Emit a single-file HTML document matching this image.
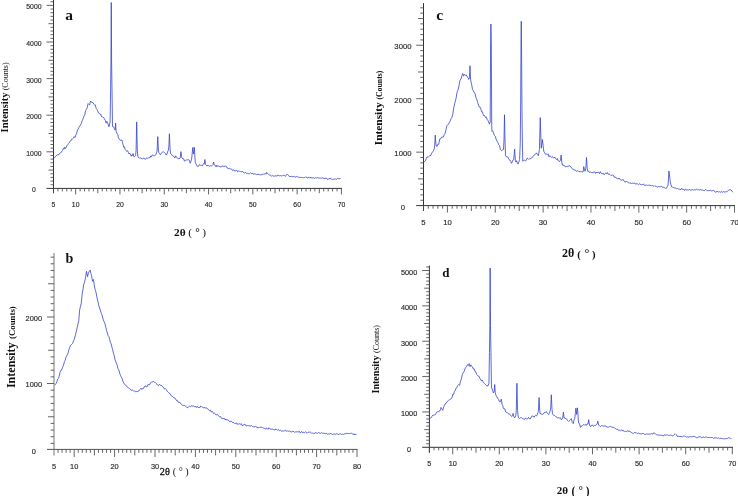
<!DOCTYPE html>
<html><head><meta charset="utf-8"><title>XRD</title>
<style>html,body{margin:0;padding:0;background:#fff;}svg{display:block;will-change:transform;}</style>
</head><body>
<svg width="738" height="496" viewBox="0 0 738 496">
<rect width="738" height="496" fill="#fff"/>
<style>
text{font-family:"Liberation Sans",sans-serif;}
.tl{fill:#2c2c2c;stroke:#2c2c2c;stroke-width:0.16;}
.sb{stroke:#111;stroke-width:0.28;}
.se{font-family:"Liberation Serif",serif;fill:#111;}
.b{font-weight:bold;}
.cv{fill:none;stroke:#3442cc;stroke-width:0.8;stroke-linejoin:round;}
</style>
<line x1="53.50" y1="0.00" x2="53.50" y2="193.20" stroke="#333" stroke-width="1"/>
<line x1="46.50" y1="188.40" x2="342.00" y2="188.40" stroke="#333" stroke-width="1"/>
<line x1="53.50" y1="188.40" x2="53.50" y2="193.20" stroke="#4a4a4a" stroke-width="0.85"/>
<line x1="57.93" y1="188.40" x2="57.93" y2="191.40" stroke="#4a4a4a" stroke-width="0.85"/>
<line x1="62.36" y1="188.40" x2="62.36" y2="191.40" stroke="#4a4a4a" stroke-width="0.85"/>
<line x1="66.79" y1="188.40" x2="66.79" y2="191.40" stroke="#4a4a4a" stroke-width="0.85"/>
<line x1="71.22" y1="188.40" x2="71.22" y2="191.40" stroke="#4a4a4a" stroke-width="0.85"/>
<line x1="75.65" y1="188.40" x2="75.65" y2="194.40" stroke="#4a4a4a" stroke-width="0.85"/>
<line x1="80.08" y1="188.40" x2="80.08" y2="191.40" stroke="#4a4a4a" stroke-width="0.85"/>
<line x1="84.51" y1="188.40" x2="84.51" y2="191.40" stroke="#4a4a4a" stroke-width="0.85"/>
<line x1="88.94" y1="188.40" x2="88.94" y2="191.40" stroke="#4a4a4a" stroke-width="0.85"/>
<line x1="93.37" y1="188.40" x2="93.37" y2="191.40" stroke="#4a4a4a" stroke-width="0.85"/>
<line x1="97.80" y1="188.40" x2="97.80" y2="193.20" stroke="#4a4a4a" stroke-width="0.85"/>
<line x1="102.23" y1="188.40" x2="102.23" y2="191.40" stroke="#4a4a4a" stroke-width="0.85"/>
<line x1="106.66" y1="188.40" x2="106.66" y2="191.40" stroke="#4a4a4a" stroke-width="0.85"/>
<line x1="111.09" y1="188.40" x2="111.09" y2="191.40" stroke="#4a4a4a" stroke-width="0.85"/>
<line x1="115.52" y1="188.40" x2="115.52" y2="191.40" stroke="#4a4a4a" stroke-width="0.85"/>
<line x1="119.95" y1="188.40" x2="119.95" y2="194.40" stroke="#4a4a4a" stroke-width="0.85"/>
<line x1="124.38" y1="188.40" x2="124.38" y2="191.40" stroke="#4a4a4a" stroke-width="0.85"/>
<line x1="128.81" y1="188.40" x2="128.81" y2="191.40" stroke="#4a4a4a" stroke-width="0.85"/>
<line x1="133.24" y1="188.40" x2="133.24" y2="191.40" stroke="#4a4a4a" stroke-width="0.85"/>
<line x1="137.67" y1="188.40" x2="137.67" y2="191.40" stroke="#4a4a4a" stroke-width="0.85"/>
<line x1="142.10" y1="188.40" x2="142.10" y2="193.20" stroke="#4a4a4a" stroke-width="0.85"/>
<line x1="146.53" y1="188.40" x2="146.53" y2="191.40" stroke="#4a4a4a" stroke-width="0.85"/>
<line x1="150.96" y1="188.40" x2="150.96" y2="191.40" stroke="#4a4a4a" stroke-width="0.85"/>
<line x1="155.39" y1="188.40" x2="155.39" y2="191.40" stroke="#4a4a4a" stroke-width="0.85"/>
<line x1="159.82" y1="188.40" x2="159.82" y2="191.40" stroke="#4a4a4a" stroke-width="0.85"/>
<line x1="164.25" y1="188.40" x2="164.25" y2="194.40" stroke="#4a4a4a" stroke-width="0.85"/>
<line x1="168.68" y1="188.40" x2="168.68" y2="191.40" stroke="#4a4a4a" stroke-width="0.85"/>
<line x1="173.11" y1="188.40" x2="173.11" y2="191.40" stroke="#4a4a4a" stroke-width="0.85"/>
<line x1="177.54" y1="188.40" x2="177.54" y2="191.40" stroke="#4a4a4a" stroke-width="0.85"/>
<line x1="181.97" y1="188.40" x2="181.97" y2="191.40" stroke="#4a4a4a" stroke-width="0.85"/>
<line x1="186.40" y1="188.40" x2="186.40" y2="193.20" stroke="#4a4a4a" stroke-width="0.85"/>
<line x1="190.83" y1="188.40" x2="190.83" y2="191.40" stroke="#4a4a4a" stroke-width="0.85"/>
<line x1="195.26" y1="188.40" x2="195.26" y2="191.40" stroke="#4a4a4a" stroke-width="0.85"/>
<line x1="199.69" y1="188.40" x2="199.69" y2="191.40" stroke="#4a4a4a" stroke-width="0.85"/>
<line x1="204.12" y1="188.40" x2="204.12" y2="191.40" stroke="#4a4a4a" stroke-width="0.85"/>
<line x1="208.55" y1="188.40" x2="208.55" y2="194.40" stroke="#4a4a4a" stroke-width="0.85"/>
<line x1="212.98" y1="188.40" x2="212.98" y2="191.40" stroke="#4a4a4a" stroke-width="0.85"/>
<line x1="217.41" y1="188.40" x2="217.41" y2="191.40" stroke="#4a4a4a" stroke-width="0.85"/>
<line x1="221.84" y1="188.40" x2="221.84" y2="191.40" stroke="#4a4a4a" stroke-width="0.85"/>
<line x1="226.27" y1="188.40" x2="226.27" y2="191.40" stroke="#4a4a4a" stroke-width="0.85"/>
<line x1="230.70" y1="188.40" x2="230.70" y2="193.20" stroke="#4a4a4a" stroke-width="0.85"/>
<line x1="235.13" y1="188.40" x2="235.13" y2="191.40" stroke="#4a4a4a" stroke-width="0.85"/>
<line x1="239.56" y1="188.40" x2="239.56" y2="191.40" stroke="#4a4a4a" stroke-width="0.85"/>
<line x1="243.99" y1="188.40" x2="243.99" y2="191.40" stroke="#4a4a4a" stroke-width="0.85"/>
<line x1="248.42" y1="188.40" x2="248.42" y2="191.40" stroke="#4a4a4a" stroke-width="0.85"/>
<line x1="252.85" y1="188.40" x2="252.85" y2="194.40" stroke="#4a4a4a" stroke-width="0.85"/>
<line x1="257.28" y1="188.40" x2="257.28" y2="191.40" stroke="#4a4a4a" stroke-width="0.85"/>
<line x1="261.71" y1="188.40" x2="261.71" y2="191.40" stroke="#4a4a4a" stroke-width="0.85"/>
<line x1="266.14" y1="188.40" x2="266.14" y2="191.40" stroke="#4a4a4a" stroke-width="0.85"/>
<line x1="270.57" y1="188.40" x2="270.57" y2="191.40" stroke="#4a4a4a" stroke-width="0.85"/>
<line x1="275.00" y1="188.40" x2="275.00" y2="193.20" stroke="#4a4a4a" stroke-width="0.85"/>
<line x1="279.43" y1="188.40" x2="279.43" y2="191.40" stroke="#4a4a4a" stroke-width="0.85"/>
<line x1="283.86" y1="188.40" x2="283.86" y2="191.40" stroke="#4a4a4a" stroke-width="0.85"/>
<line x1="288.29" y1="188.40" x2="288.29" y2="191.40" stroke="#4a4a4a" stroke-width="0.85"/>
<line x1="292.72" y1="188.40" x2="292.72" y2="191.40" stroke="#4a4a4a" stroke-width="0.85"/>
<line x1="297.15" y1="188.40" x2="297.15" y2="194.40" stroke="#4a4a4a" stroke-width="0.85"/>
<line x1="301.58" y1="188.40" x2="301.58" y2="191.40" stroke="#4a4a4a" stroke-width="0.85"/>
<line x1="306.01" y1="188.40" x2="306.01" y2="191.40" stroke="#4a4a4a" stroke-width="0.85"/>
<line x1="310.44" y1="188.40" x2="310.44" y2="191.40" stroke="#4a4a4a" stroke-width="0.85"/>
<line x1="314.87" y1="188.40" x2="314.87" y2="191.40" stroke="#4a4a4a" stroke-width="0.85"/>
<line x1="319.30" y1="188.40" x2="319.30" y2="193.20" stroke="#4a4a4a" stroke-width="0.85"/>
<line x1="323.73" y1="188.40" x2="323.73" y2="191.40" stroke="#4a4a4a" stroke-width="0.85"/>
<line x1="328.16" y1="188.40" x2="328.16" y2="191.40" stroke="#4a4a4a" stroke-width="0.85"/>
<line x1="332.59" y1="188.40" x2="332.59" y2="191.40" stroke="#4a4a4a" stroke-width="0.85"/>
<line x1="337.02" y1="188.40" x2="337.02" y2="191.40" stroke="#4a4a4a" stroke-width="0.85"/>
<line x1="341.45" y1="188.40" x2="341.45" y2="194.40" stroke="#4a4a4a" stroke-width="0.85"/>
<line x1="50.50" y1="184.74" x2="53.50" y2="184.74" stroke="#4a4a4a" stroke-width="0.85"/>
<line x1="50.50" y1="181.08" x2="53.50" y2="181.08" stroke="#4a4a4a" stroke-width="0.85"/>
<line x1="50.50" y1="177.42" x2="53.50" y2="177.42" stroke="#4a4a4a" stroke-width="0.85"/>
<line x1="50.50" y1="173.76" x2="53.50" y2="173.76" stroke="#4a4a4a" stroke-width="0.85"/>
<line x1="48.50" y1="170.10" x2="53.50" y2="170.10" stroke="#4a4a4a" stroke-width="0.85"/>
<line x1="50.50" y1="166.44" x2="53.50" y2="166.44" stroke="#4a4a4a" stroke-width="0.85"/>
<line x1="50.50" y1="162.78" x2="53.50" y2="162.78" stroke="#4a4a4a" stroke-width="0.85"/>
<line x1="50.50" y1="159.12" x2="53.50" y2="159.12" stroke="#4a4a4a" stroke-width="0.85"/>
<line x1="50.50" y1="155.46" x2="53.50" y2="155.46" stroke="#4a4a4a" stroke-width="0.85"/>
<line x1="46.50" y1="151.80" x2="53.50" y2="151.80" stroke="#4a4a4a" stroke-width="0.85"/>
<line x1="50.50" y1="148.14" x2="53.50" y2="148.14" stroke="#4a4a4a" stroke-width="0.85"/>
<line x1="50.50" y1="144.48" x2="53.50" y2="144.48" stroke="#4a4a4a" stroke-width="0.85"/>
<line x1="50.50" y1="140.82" x2="53.50" y2="140.82" stroke="#4a4a4a" stroke-width="0.85"/>
<line x1="50.50" y1="137.16" x2="53.50" y2="137.16" stroke="#4a4a4a" stroke-width="0.85"/>
<line x1="48.50" y1="133.50" x2="53.50" y2="133.50" stroke="#4a4a4a" stroke-width="0.85"/>
<line x1="50.50" y1="129.84" x2="53.50" y2="129.84" stroke="#4a4a4a" stroke-width="0.85"/>
<line x1="50.50" y1="126.18" x2="53.50" y2="126.18" stroke="#4a4a4a" stroke-width="0.85"/>
<line x1="50.50" y1="122.52" x2="53.50" y2="122.52" stroke="#4a4a4a" stroke-width="0.85"/>
<line x1="50.50" y1="118.86" x2="53.50" y2="118.86" stroke="#4a4a4a" stroke-width="0.85"/>
<line x1="46.50" y1="115.20" x2="53.50" y2="115.20" stroke="#4a4a4a" stroke-width="0.85"/>
<line x1="50.50" y1="111.54" x2="53.50" y2="111.54" stroke="#4a4a4a" stroke-width="0.85"/>
<line x1="50.50" y1="107.88" x2="53.50" y2="107.88" stroke="#4a4a4a" stroke-width="0.85"/>
<line x1="50.50" y1="104.22" x2="53.50" y2="104.22" stroke="#4a4a4a" stroke-width="0.85"/>
<line x1="50.50" y1="100.56" x2="53.50" y2="100.56" stroke="#4a4a4a" stroke-width="0.85"/>
<line x1="48.50" y1="96.90" x2="53.50" y2="96.90" stroke="#4a4a4a" stroke-width="0.85"/>
<line x1="50.50" y1="93.24" x2="53.50" y2="93.24" stroke="#4a4a4a" stroke-width="0.85"/>
<line x1="50.50" y1="89.58" x2="53.50" y2="89.58" stroke="#4a4a4a" stroke-width="0.85"/>
<line x1="50.50" y1="85.92" x2="53.50" y2="85.92" stroke="#4a4a4a" stroke-width="0.85"/>
<line x1="50.50" y1="82.26" x2="53.50" y2="82.26" stroke="#4a4a4a" stroke-width="0.85"/>
<line x1="46.50" y1="78.60" x2="53.50" y2="78.60" stroke="#4a4a4a" stroke-width="0.85"/>
<line x1="50.50" y1="74.94" x2="53.50" y2="74.94" stroke="#4a4a4a" stroke-width="0.85"/>
<line x1="50.50" y1="71.28" x2="53.50" y2="71.28" stroke="#4a4a4a" stroke-width="0.85"/>
<line x1="50.50" y1="67.62" x2="53.50" y2="67.62" stroke="#4a4a4a" stroke-width="0.85"/>
<line x1="50.50" y1="63.96" x2="53.50" y2="63.96" stroke="#4a4a4a" stroke-width="0.85"/>
<line x1="48.50" y1="60.30" x2="53.50" y2="60.30" stroke="#4a4a4a" stroke-width="0.85"/>
<line x1="50.50" y1="56.64" x2="53.50" y2="56.64" stroke="#4a4a4a" stroke-width="0.85"/>
<line x1="50.50" y1="52.98" x2="53.50" y2="52.98" stroke="#4a4a4a" stroke-width="0.85"/>
<line x1="50.50" y1="49.32" x2="53.50" y2="49.32" stroke="#4a4a4a" stroke-width="0.85"/>
<line x1="50.50" y1="45.66" x2="53.50" y2="45.66" stroke="#4a4a4a" stroke-width="0.85"/>
<line x1="46.50" y1="42.00" x2="53.50" y2="42.00" stroke="#4a4a4a" stroke-width="0.85"/>
<line x1="50.50" y1="38.34" x2="53.50" y2="38.34" stroke="#4a4a4a" stroke-width="0.85"/>
<line x1="50.50" y1="34.68" x2="53.50" y2="34.68" stroke="#4a4a4a" stroke-width="0.85"/>
<line x1="50.50" y1="31.02" x2="53.50" y2="31.02" stroke="#4a4a4a" stroke-width="0.85"/>
<line x1="50.50" y1="27.36" x2="53.50" y2="27.36" stroke="#4a4a4a" stroke-width="0.85"/>
<line x1="48.50" y1="23.70" x2="53.50" y2="23.70" stroke="#4a4a4a" stroke-width="0.85"/>
<line x1="50.50" y1="20.04" x2="53.50" y2="20.04" stroke="#4a4a4a" stroke-width="0.85"/>
<line x1="50.50" y1="16.38" x2="53.50" y2="16.38" stroke="#4a4a4a" stroke-width="0.85"/>
<line x1="50.50" y1="12.72" x2="53.50" y2="12.72" stroke="#4a4a4a" stroke-width="0.85"/>
<line x1="50.50" y1="9.06" x2="53.50" y2="9.06" stroke="#4a4a4a" stroke-width="0.85"/>
<line x1="46.50" y1="5.40" x2="53.50" y2="5.40" stroke="#4a4a4a" stroke-width="0.85"/>
<line x1="50.50" y1="1.74" x2="53.50" y2="1.74" stroke="#4a4a4a" stroke-width="0.85"/>
<text transform="translate(33.90,192.30) scale(0.88,1)" text-anchor="middle" font-size="7.8" class="tl">0</text>
<text transform="translate(33.90,155.70) scale(0.88,1)" text-anchor="middle" font-size="7.8" class="tl">1000</text>
<text transform="translate(33.90,119.10) scale(0.88,1)" text-anchor="middle" font-size="7.8" class="tl">2000</text>
<text transform="translate(33.90,82.50) scale(0.88,1)" text-anchor="middle" font-size="7.8" class="tl">3000</text>
<text transform="translate(33.90,45.90) scale(0.88,1)" text-anchor="middle" font-size="7.8" class="tl">4000</text>
<text transform="translate(33.90,9.30) scale(0.88,1)" text-anchor="middle" font-size="7.8" class="tl">5000</text>
<text transform="translate(53.50,207.00) scale(0.88,1)" text-anchor="middle" font-size="7.8" class="tl">5</text>
<text transform="translate(75.65,207.00) scale(0.88,1)" text-anchor="middle" font-size="7.8" class="tl">10</text>
<text transform="translate(119.95,207.00) scale(0.88,1)" text-anchor="middle" font-size="7.8" class="tl">20</text>
<text transform="translate(164.25,207.00) scale(0.88,1)" text-anchor="middle" font-size="7.8" class="tl">30</text>
<text transform="translate(208.55,207.00) scale(0.88,1)" text-anchor="middle" font-size="7.8" class="tl">40</text>
<text transform="translate(252.85,207.00) scale(0.88,1)" text-anchor="middle" font-size="7.8" class="tl">50</text>
<text transform="translate(297.15,207.00) scale(0.88,1)" text-anchor="middle" font-size="7.8" class="tl">60</text>
<text transform="translate(341.45,207.00) scale(0.88,1)" text-anchor="middle" font-size="7.8" class="tl">70</text>
<line x1="54.00" y1="253.00" x2="54.00" y2="455.40" stroke="#b4b4b4" stroke-width="1.8"/>
<line x1="47.00" y1="449.40" x2="357.50" y2="449.40" stroke="#555" stroke-width="1"/>
<line x1="58.04" y1="449.40" x2="58.04" y2="452.80" stroke="#4a4a4a" stroke-width="0.85"/>
<line x1="62.08" y1="449.40" x2="62.08" y2="452.80" stroke="#4a4a4a" stroke-width="0.85"/>
<line x1="66.12" y1="449.40" x2="66.12" y2="452.80" stroke="#4a4a4a" stroke-width="0.85"/>
<line x1="70.16" y1="449.40" x2="70.16" y2="452.80" stroke="#4a4a4a" stroke-width="0.85"/>
<line x1="74.20" y1="449.40" x2="74.20" y2="457.00" stroke="#4a4a4a" stroke-width="0.85"/>
<line x1="78.24" y1="449.40" x2="78.24" y2="452.80" stroke="#4a4a4a" stroke-width="0.85"/>
<line x1="82.28" y1="449.40" x2="82.28" y2="452.80" stroke="#4a4a4a" stroke-width="0.85"/>
<line x1="86.32" y1="449.40" x2="86.32" y2="452.80" stroke="#4a4a4a" stroke-width="0.85"/>
<line x1="90.36" y1="449.40" x2="90.36" y2="452.80" stroke="#4a4a4a" stroke-width="0.85"/>
<line x1="94.40" y1="449.40" x2="94.40" y2="455.40" stroke="#4a4a4a" stroke-width="0.85"/>
<line x1="98.44" y1="449.40" x2="98.44" y2="452.80" stroke="#4a4a4a" stroke-width="0.85"/>
<line x1="102.48" y1="449.40" x2="102.48" y2="452.80" stroke="#4a4a4a" stroke-width="0.85"/>
<line x1="106.52" y1="449.40" x2="106.52" y2="452.80" stroke="#4a4a4a" stroke-width="0.85"/>
<line x1="110.56" y1="449.40" x2="110.56" y2="452.80" stroke="#4a4a4a" stroke-width="0.85"/>
<line x1="114.60" y1="449.40" x2="114.60" y2="457.00" stroke="#4a4a4a" stroke-width="0.85"/>
<line x1="118.64" y1="449.40" x2="118.64" y2="452.80" stroke="#4a4a4a" stroke-width="0.85"/>
<line x1="122.68" y1="449.40" x2="122.68" y2="452.80" stroke="#4a4a4a" stroke-width="0.85"/>
<line x1="126.72" y1="449.40" x2="126.72" y2="452.80" stroke="#4a4a4a" stroke-width="0.85"/>
<line x1="130.76" y1="449.40" x2="130.76" y2="452.80" stroke="#4a4a4a" stroke-width="0.85"/>
<line x1="134.80" y1="449.40" x2="134.80" y2="455.40" stroke="#4a4a4a" stroke-width="0.85"/>
<line x1="138.84" y1="449.40" x2="138.84" y2="452.80" stroke="#4a4a4a" stroke-width="0.85"/>
<line x1="142.88" y1="449.40" x2="142.88" y2="452.80" stroke="#4a4a4a" stroke-width="0.85"/>
<line x1="146.92" y1="449.40" x2="146.92" y2="452.80" stroke="#4a4a4a" stroke-width="0.85"/>
<line x1="150.96" y1="449.40" x2="150.96" y2="452.80" stroke="#4a4a4a" stroke-width="0.85"/>
<line x1="155.00" y1="449.40" x2="155.00" y2="457.00" stroke="#4a4a4a" stroke-width="0.85"/>
<line x1="159.04" y1="449.40" x2="159.04" y2="452.80" stroke="#4a4a4a" stroke-width="0.85"/>
<line x1="163.08" y1="449.40" x2="163.08" y2="452.80" stroke="#4a4a4a" stroke-width="0.85"/>
<line x1="167.12" y1="449.40" x2="167.12" y2="452.80" stroke="#4a4a4a" stroke-width="0.85"/>
<line x1="171.16" y1="449.40" x2="171.16" y2="452.80" stroke="#4a4a4a" stroke-width="0.85"/>
<line x1="175.20" y1="449.40" x2="175.20" y2="455.40" stroke="#4a4a4a" stroke-width="0.85"/>
<line x1="179.24" y1="449.40" x2="179.24" y2="452.80" stroke="#4a4a4a" stroke-width="0.85"/>
<line x1="183.28" y1="449.40" x2="183.28" y2="452.80" stroke="#4a4a4a" stroke-width="0.85"/>
<line x1="187.32" y1="449.40" x2="187.32" y2="452.80" stroke="#4a4a4a" stroke-width="0.85"/>
<line x1="191.36" y1="449.40" x2="191.36" y2="452.80" stroke="#4a4a4a" stroke-width="0.85"/>
<line x1="195.40" y1="449.40" x2="195.40" y2="457.00" stroke="#4a4a4a" stroke-width="0.85"/>
<line x1="199.44" y1="449.40" x2="199.44" y2="452.80" stroke="#4a4a4a" stroke-width="0.85"/>
<line x1="203.48" y1="449.40" x2="203.48" y2="452.80" stroke="#4a4a4a" stroke-width="0.85"/>
<line x1="207.52" y1="449.40" x2="207.52" y2="452.80" stroke="#4a4a4a" stroke-width="0.85"/>
<line x1="211.56" y1="449.40" x2="211.56" y2="452.80" stroke="#4a4a4a" stroke-width="0.85"/>
<line x1="215.60" y1="449.40" x2="215.60" y2="455.40" stroke="#4a4a4a" stroke-width="0.85"/>
<line x1="219.64" y1="449.40" x2="219.64" y2="452.80" stroke="#4a4a4a" stroke-width="0.85"/>
<line x1="223.68" y1="449.40" x2="223.68" y2="452.80" stroke="#4a4a4a" stroke-width="0.85"/>
<line x1="227.72" y1="449.40" x2="227.72" y2="452.80" stroke="#4a4a4a" stroke-width="0.85"/>
<line x1="231.76" y1="449.40" x2="231.76" y2="452.80" stroke="#4a4a4a" stroke-width="0.85"/>
<line x1="235.80" y1="449.40" x2="235.80" y2="457.00" stroke="#4a4a4a" stroke-width="0.85"/>
<line x1="239.84" y1="449.40" x2="239.84" y2="452.80" stroke="#4a4a4a" stroke-width="0.85"/>
<line x1="243.88" y1="449.40" x2="243.88" y2="452.80" stroke="#4a4a4a" stroke-width="0.85"/>
<line x1="247.92" y1="449.40" x2="247.92" y2="452.80" stroke="#4a4a4a" stroke-width="0.85"/>
<line x1="251.96" y1="449.40" x2="251.96" y2="452.80" stroke="#4a4a4a" stroke-width="0.85"/>
<line x1="256.00" y1="449.40" x2="256.00" y2="455.40" stroke="#4a4a4a" stroke-width="0.85"/>
<line x1="260.04" y1="449.40" x2="260.04" y2="452.80" stroke="#4a4a4a" stroke-width="0.85"/>
<line x1="264.08" y1="449.40" x2="264.08" y2="452.80" stroke="#4a4a4a" stroke-width="0.85"/>
<line x1="268.12" y1="449.40" x2="268.12" y2="452.80" stroke="#4a4a4a" stroke-width="0.85"/>
<line x1="272.16" y1="449.40" x2="272.16" y2="452.80" stroke="#4a4a4a" stroke-width="0.85"/>
<line x1="276.20" y1="449.40" x2="276.20" y2="457.00" stroke="#4a4a4a" stroke-width="0.85"/>
<line x1="280.24" y1="449.40" x2="280.24" y2="452.80" stroke="#4a4a4a" stroke-width="0.85"/>
<line x1="284.28" y1="449.40" x2="284.28" y2="452.80" stroke="#4a4a4a" stroke-width="0.85"/>
<line x1="288.32" y1="449.40" x2="288.32" y2="452.80" stroke="#4a4a4a" stroke-width="0.85"/>
<line x1="292.36" y1="449.40" x2="292.36" y2="452.80" stroke="#4a4a4a" stroke-width="0.85"/>
<line x1="296.40" y1="449.40" x2="296.40" y2="455.40" stroke="#4a4a4a" stroke-width="0.85"/>
<line x1="300.44" y1="449.40" x2="300.44" y2="452.80" stroke="#4a4a4a" stroke-width="0.85"/>
<line x1="304.48" y1="449.40" x2="304.48" y2="452.80" stroke="#4a4a4a" stroke-width="0.85"/>
<line x1="308.52" y1="449.40" x2="308.52" y2="452.80" stroke="#4a4a4a" stroke-width="0.85"/>
<line x1="312.56" y1="449.40" x2="312.56" y2="452.80" stroke="#4a4a4a" stroke-width="0.85"/>
<line x1="316.60" y1="449.40" x2="316.60" y2="457.00" stroke="#4a4a4a" stroke-width="0.85"/>
<line x1="320.64" y1="449.40" x2="320.64" y2="452.80" stroke="#4a4a4a" stroke-width="0.85"/>
<line x1="324.68" y1="449.40" x2="324.68" y2="452.80" stroke="#4a4a4a" stroke-width="0.85"/>
<line x1="328.72" y1="449.40" x2="328.72" y2="452.80" stroke="#4a4a4a" stroke-width="0.85"/>
<line x1="332.76" y1="449.40" x2="332.76" y2="452.80" stroke="#4a4a4a" stroke-width="0.85"/>
<line x1="336.80" y1="449.40" x2="336.80" y2="455.40" stroke="#4a4a4a" stroke-width="0.85"/>
<line x1="340.84" y1="449.40" x2="340.84" y2="452.80" stroke="#4a4a4a" stroke-width="0.85"/>
<line x1="344.88" y1="449.40" x2="344.88" y2="452.80" stroke="#4a4a4a" stroke-width="0.85"/>
<line x1="348.92" y1="449.40" x2="348.92" y2="452.80" stroke="#4a4a4a" stroke-width="0.85"/>
<line x1="352.96" y1="449.40" x2="352.96" y2="452.80" stroke="#4a4a4a" stroke-width="0.85"/>
<line x1="357.00" y1="449.40" x2="357.00" y2="457.00" stroke="#4a4a4a" stroke-width="0.85"/>
<line x1="50.60" y1="443.35" x2="54.00" y2="443.35" stroke="#4a4a4a" stroke-width="0.85"/>
<line x1="50.60" y1="436.70" x2="54.00" y2="436.70" stroke="#4a4a4a" stroke-width="0.85"/>
<line x1="50.60" y1="430.05" x2="54.00" y2="430.05" stroke="#4a4a4a" stroke-width="0.85"/>
<line x1="50.60" y1="423.40" x2="54.00" y2="423.40" stroke="#4a4a4a" stroke-width="0.85"/>
<line x1="48.00" y1="416.75" x2="54.00" y2="416.75" stroke="#4a4a4a" stroke-width="0.85"/>
<line x1="50.60" y1="410.10" x2="54.00" y2="410.10" stroke="#4a4a4a" stroke-width="0.85"/>
<line x1="50.60" y1="403.45" x2="54.00" y2="403.45" stroke="#4a4a4a" stroke-width="0.85"/>
<line x1="50.60" y1="396.80" x2="54.00" y2="396.80" stroke="#4a4a4a" stroke-width="0.85"/>
<line x1="50.60" y1="390.15" x2="54.00" y2="390.15" stroke="#4a4a4a" stroke-width="0.85"/>
<line x1="47.00" y1="383.50" x2="54.00" y2="383.50" stroke="#4a4a4a" stroke-width="0.85"/>
<line x1="50.60" y1="376.85" x2="54.00" y2="376.85" stroke="#4a4a4a" stroke-width="0.85"/>
<line x1="50.60" y1="370.20" x2="54.00" y2="370.20" stroke="#4a4a4a" stroke-width="0.85"/>
<line x1="50.60" y1="363.55" x2="54.00" y2="363.55" stroke="#4a4a4a" stroke-width="0.85"/>
<line x1="50.60" y1="356.90" x2="54.00" y2="356.90" stroke="#4a4a4a" stroke-width="0.85"/>
<line x1="48.00" y1="350.25" x2="54.00" y2="350.25" stroke="#4a4a4a" stroke-width="0.85"/>
<line x1="50.60" y1="343.60" x2="54.00" y2="343.60" stroke="#4a4a4a" stroke-width="0.85"/>
<line x1="50.60" y1="336.95" x2="54.00" y2="336.95" stroke="#4a4a4a" stroke-width="0.85"/>
<line x1="50.60" y1="330.30" x2="54.00" y2="330.30" stroke="#4a4a4a" stroke-width="0.85"/>
<line x1="50.60" y1="323.65" x2="54.00" y2="323.65" stroke="#4a4a4a" stroke-width="0.85"/>
<line x1="47.00" y1="317.00" x2="54.00" y2="317.00" stroke="#4a4a4a" stroke-width="0.85"/>
<line x1="50.60" y1="310.35" x2="54.00" y2="310.35" stroke="#4a4a4a" stroke-width="0.85"/>
<line x1="50.60" y1="303.70" x2="54.00" y2="303.70" stroke="#4a4a4a" stroke-width="0.85"/>
<line x1="50.60" y1="297.05" x2="54.00" y2="297.05" stroke="#4a4a4a" stroke-width="0.85"/>
<line x1="50.60" y1="290.40" x2="54.00" y2="290.40" stroke="#4a4a4a" stroke-width="0.85"/>
<line x1="48.00" y1="283.75" x2="54.00" y2="283.75" stroke="#4a4a4a" stroke-width="0.85"/>
<line x1="50.60" y1="277.10" x2="54.00" y2="277.10" stroke="#4a4a4a" stroke-width="0.85"/>
<line x1="50.60" y1="270.45" x2="54.00" y2="270.45" stroke="#4a4a4a" stroke-width="0.85"/>
<line x1="50.60" y1="263.80" x2="54.00" y2="263.80" stroke="#4a4a4a" stroke-width="0.85"/>
<line x1="50.60" y1="257.15" x2="54.00" y2="257.15" stroke="#4a4a4a" stroke-width="0.85"/>
<text transform="translate(33.80,453.80) scale(1,1)" text-anchor="middle" font-size="7.4" class="tl">0</text>
<text transform="translate(33.80,387.30) scale(1,1)" text-anchor="middle" font-size="7.4" class="tl">1000</text>
<text transform="translate(33.80,320.80) scale(1,1)" text-anchor="middle" font-size="7.4" class="tl">2000</text>
<text transform="translate(54.00,469.20) scale(1,1)" text-anchor="middle" font-size="7.4" class="tl">5</text>
<text transform="translate(74.20,469.20) scale(1,1)" text-anchor="middle" font-size="7.4" class="tl">10</text>
<text transform="translate(114.60,469.20) scale(1,1)" text-anchor="middle" font-size="7.4" class="tl">20</text>
<text transform="translate(155.00,469.20) scale(1,1)" text-anchor="middle" font-size="7.4" class="tl">30</text>
<text transform="translate(195.40,469.20) scale(1,1)" text-anchor="middle" font-size="7.4" class="tl">40</text>
<text transform="translate(235.80,469.20) scale(1,1)" text-anchor="middle" font-size="7.4" class="tl">50</text>
<text transform="translate(276.20,469.20) scale(1,1)" text-anchor="middle" font-size="7.4" class="tl">60</text>
<text transform="translate(316.60,469.20) scale(1,1)" text-anchor="middle" font-size="7.4" class="tl">70</text>
<text transform="translate(357.00,469.20) scale(1,1)" text-anchor="middle" font-size="7.4" class="tl">80</text>
<line x1="423.50" y1="3.10" x2="423.50" y2="211.00" stroke="#333" stroke-width="1"/>
<line x1="416.20" y1="205.60" x2="735.00" y2="205.60" stroke="#333" stroke-width="1"/>
<line x1="423.50" y1="205.60" x2="423.50" y2="211.00" stroke="#4a4a4a" stroke-width="0.85"/>
<line x1="428.29" y1="205.60" x2="428.29" y2="208.70" stroke="#4a4a4a" stroke-width="0.85"/>
<line x1="433.07" y1="205.60" x2="433.07" y2="208.70" stroke="#4a4a4a" stroke-width="0.85"/>
<line x1="437.86" y1="205.60" x2="437.86" y2="208.70" stroke="#4a4a4a" stroke-width="0.85"/>
<line x1="442.64" y1="205.60" x2="442.64" y2="208.70" stroke="#4a4a4a" stroke-width="0.85"/>
<line x1="447.43" y1="205.60" x2="447.43" y2="212.60" stroke="#4a4a4a" stroke-width="0.85"/>
<line x1="452.21" y1="205.60" x2="452.21" y2="208.70" stroke="#4a4a4a" stroke-width="0.85"/>
<line x1="457.00" y1="205.60" x2="457.00" y2="208.70" stroke="#4a4a4a" stroke-width="0.85"/>
<line x1="461.78" y1="205.60" x2="461.78" y2="208.70" stroke="#4a4a4a" stroke-width="0.85"/>
<line x1="466.56" y1="205.60" x2="466.56" y2="208.70" stroke="#4a4a4a" stroke-width="0.85"/>
<line x1="471.35" y1="205.60" x2="471.35" y2="211.00" stroke="#4a4a4a" stroke-width="0.85"/>
<line x1="476.13" y1="205.60" x2="476.13" y2="208.70" stroke="#4a4a4a" stroke-width="0.85"/>
<line x1="480.92" y1="205.60" x2="480.92" y2="208.70" stroke="#4a4a4a" stroke-width="0.85"/>
<line x1="485.70" y1="205.60" x2="485.70" y2="208.70" stroke="#4a4a4a" stroke-width="0.85"/>
<line x1="490.49" y1="205.60" x2="490.49" y2="208.70" stroke="#4a4a4a" stroke-width="0.85"/>
<line x1="495.27" y1="205.60" x2="495.27" y2="212.60" stroke="#4a4a4a" stroke-width="0.85"/>
<line x1="500.06" y1="205.60" x2="500.06" y2="208.70" stroke="#4a4a4a" stroke-width="0.85"/>
<line x1="504.85" y1="205.60" x2="504.85" y2="208.70" stroke="#4a4a4a" stroke-width="0.85"/>
<line x1="509.63" y1="205.60" x2="509.63" y2="208.70" stroke="#4a4a4a" stroke-width="0.85"/>
<line x1="514.41" y1="205.60" x2="514.41" y2="208.70" stroke="#4a4a4a" stroke-width="0.85"/>
<line x1="519.20" y1="205.60" x2="519.20" y2="211.00" stroke="#4a4a4a" stroke-width="0.85"/>
<line x1="523.99" y1="205.60" x2="523.99" y2="208.70" stroke="#4a4a4a" stroke-width="0.85"/>
<line x1="528.77" y1="205.60" x2="528.77" y2="208.70" stroke="#4a4a4a" stroke-width="0.85"/>
<line x1="533.56" y1="205.60" x2="533.56" y2="208.70" stroke="#4a4a4a" stroke-width="0.85"/>
<line x1="538.34" y1="205.60" x2="538.34" y2="208.70" stroke="#4a4a4a" stroke-width="0.85"/>
<line x1="543.12" y1="205.60" x2="543.12" y2="212.60" stroke="#4a4a4a" stroke-width="0.85"/>
<line x1="547.91" y1="205.60" x2="547.91" y2="208.70" stroke="#4a4a4a" stroke-width="0.85"/>
<line x1="552.69" y1="205.60" x2="552.69" y2="208.70" stroke="#4a4a4a" stroke-width="0.85"/>
<line x1="557.48" y1="205.60" x2="557.48" y2="208.70" stroke="#4a4a4a" stroke-width="0.85"/>
<line x1="562.26" y1="205.60" x2="562.26" y2="208.70" stroke="#4a4a4a" stroke-width="0.85"/>
<line x1="567.05" y1="205.60" x2="567.05" y2="211.00" stroke="#4a4a4a" stroke-width="0.85"/>
<line x1="571.84" y1="205.60" x2="571.84" y2="208.70" stroke="#4a4a4a" stroke-width="0.85"/>
<line x1="576.62" y1="205.60" x2="576.62" y2="208.70" stroke="#4a4a4a" stroke-width="0.85"/>
<line x1="581.40" y1="205.60" x2="581.40" y2="208.70" stroke="#4a4a4a" stroke-width="0.85"/>
<line x1="586.19" y1="205.60" x2="586.19" y2="208.70" stroke="#4a4a4a" stroke-width="0.85"/>
<line x1="590.98" y1="205.60" x2="590.98" y2="212.60" stroke="#4a4a4a" stroke-width="0.85"/>
<line x1="595.76" y1="205.60" x2="595.76" y2="208.70" stroke="#4a4a4a" stroke-width="0.85"/>
<line x1="600.55" y1="205.60" x2="600.55" y2="208.70" stroke="#4a4a4a" stroke-width="0.85"/>
<line x1="605.33" y1="205.60" x2="605.33" y2="208.70" stroke="#4a4a4a" stroke-width="0.85"/>
<line x1="610.12" y1="205.60" x2="610.12" y2="208.70" stroke="#4a4a4a" stroke-width="0.85"/>
<line x1="614.90" y1="205.60" x2="614.90" y2="211.00" stroke="#4a4a4a" stroke-width="0.85"/>
<line x1="619.68" y1="205.60" x2="619.68" y2="208.70" stroke="#4a4a4a" stroke-width="0.85"/>
<line x1="624.47" y1="205.60" x2="624.47" y2="208.70" stroke="#4a4a4a" stroke-width="0.85"/>
<line x1="629.25" y1="205.60" x2="629.25" y2="208.70" stroke="#4a4a4a" stroke-width="0.85"/>
<line x1="634.04" y1="205.60" x2="634.04" y2="208.70" stroke="#4a4a4a" stroke-width="0.85"/>
<line x1="638.83" y1="205.60" x2="638.83" y2="212.60" stroke="#4a4a4a" stroke-width="0.85"/>
<line x1="643.61" y1="205.60" x2="643.61" y2="208.70" stroke="#4a4a4a" stroke-width="0.85"/>
<line x1="648.39" y1="205.60" x2="648.39" y2="208.70" stroke="#4a4a4a" stroke-width="0.85"/>
<line x1="653.18" y1="205.60" x2="653.18" y2="208.70" stroke="#4a4a4a" stroke-width="0.85"/>
<line x1="657.97" y1="205.60" x2="657.97" y2="208.70" stroke="#4a4a4a" stroke-width="0.85"/>
<line x1="662.75" y1="205.60" x2="662.75" y2="211.00" stroke="#4a4a4a" stroke-width="0.85"/>
<line x1="667.53" y1="205.60" x2="667.53" y2="208.70" stroke="#4a4a4a" stroke-width="0.85"/>
<line x1="672.32" y1="205.60" x2="672.32" y2="208.70" stroke="#4a4a4a" stroke-width="0.85"/>
<line x1="677.11" y1="205.60" x2="677.11" y2="208.70" stroke="#4a4a4a" stroke-width="0.85"/>
<line x1="681.89" y1="205.60" x2="681.89" y2="208.70" stroke="#4a4a4a" stroke-width="0.85"/>
<line x1="686.67" y1="205.60" x2="686.67" y2="212.60" stroke="#4a4a4a" stroke-width="0.85"/>
<line x1="691.46" y1="205.60" x2="691.46" y2="208.70" stroke="#4a4a4a" stroke-width="0.85"/>
<line x1="696.25" y1="205.60" x2="696.25" y2="208.70" stroke="#4a4a4a" stroke-width="0.85"/>
<line x1="701.03" y1="205.60" x2="701.03" y2="208.70" stroke="#4a4a4a" stroke-width="0.85"/>
<line x1="705.82" y1="205.60" x2="705.82" y2="208.70" stroke="#4a4a4a" stroke-width="0.85"/>
<line x1="710.60" y1="205.60" x2="710.60" y2="211.00" stroke="#4a4a4a" stroke-width="0.85"/>
<line x1="715.38" y1="205.60" x2="715.38" y2="208.70" stroke="#4a4a4a" stroke-width="0.85"/>
<line x1="720.17" y1="205.60" x2="720.17" y2="208.70" stroke="#4a4a4a" stroke-width="0.85"/>
<line x1="724.95" y1="205.60" x2="724.95" y2="208.70" stroke="#4a4a4a" stroke-width="0.85"/>
<line x1="729.74" y1="205.60" x2="729.74" y2="208.70" stroke="#4a4a4a" stroke-width="0.85"/>
<line x1="734.53" y1="205.60" x2="734.53" y2="212.60" stroke="#4a4a4a" stroke-width="0.85"/>
<line x1="420.30" y1="200.25" x2="423.50" y2="200.25" stroke="#4a4a4a" stroke-width="0.85"/>
<line x1="420.30" y1="194.91" x2="423.50" y2="194.91" stroke="#4a4a4a" stroke-width="0.85"/>
<line x1="420.30" y1="189.56" x2="423.50" y2="189.56" stroke="#4a4a4a" stroke-width="0.85"/>
<line x1="420.30" y1="184.22" x2="423.50" y2="184.22" stroke="#4a4a4a" stroke-width="0.85"/>
<line x1="418.00" y1="178.88" x2="423.50" y2="178.88" stroke="#4a4a4a" stroke-width="0.85"/>
<line x1="420.30" y1="173.53" x2="423.50" y2="173.53" stroke="#4a4a4a" stroke-width="0.85"/>
<line x1="420.30" y1="168.19" x2="423.50" y2="168.19" stroke="#4a4a4a" stroke-width="0.85"/>
<line x1="420.30" y1="162.84" x2="423.50" y2="162.84" stroke="#4a4a4a" stroke-width="0.85"/>
<line x1="420.30" y1="157.50" x2="423.50" y2="157.50" stroke="#4a4a4a" stroke-width="0.85"/>
<line x1="416.20" y1="152.15" x2="423.50" y2="152.15" stroke="#4a4a4a" stroke-width="0.85"/>
<line x1="420.30" y1="146.81" x2="423.50" y2="146.81" stroke="#4a4a4a" stroke-width="0.85"/>
<line x1="420.30" y1="141.46" x2="423.50" y2="141.46" stroke="#4a4a4a" stroke-width="0.85"/>
<line x1="420.30" y1="136.12" x2="423.50" y2="136.12" stroke="#4a4a4a" stroke-width="0.85"/>
<line x1="420.30" y1="130.77" x2="423.50" y2="130.77" stroke="#4a4a4a" stroke-width="0.85"/>
<line x1="418.00" y1="125.42" x2="423.50" y2="125.42" stroke="#4a4a4a" stroke-width="0.85"/>
<line x1="420.30" y1="120.08" x2="423.50" y2="120.08" stroke="#4a4a4a" stroke-width="0.85"/>
<line x1="420.30" y1="114.73" x2="423.50" y2="114.73" stroke="#4a4a4a" stroke-width="0.85"/>
<line x1="420.30" y1="109.39" x2="423.50" y2="109.39" stroke="#4a4a4a" stroke-width="0.85"/>
<line x1="420.30" y1="104.05" x2="423.50" y2="104.05" stroke="#4a4a4a" stroke-width="0.85"/>
<line x1="416.20" y1="98.70" x2="423.50" y2="98.70" stroke="#4a4a4a" stroke-width="0.85"/>
<line x1="420.30" y1="93.36" x2="423.50" y2="93.36" stroke="#4a4a4a" stroke-width="0.85"/>
<line x1="420.30" y1="88.01" x2="423.50" y2="88.01" stroke="#4a4a4a" stroke-width="0.85"/>
<line x1="420.30" y1="82.67" x2="423.50" y2="82.67" stroke="#4a4a4a" stroke-width="0.85"/>
<line x1="420.30" y1="77.32" x2="423.50" y2="77.32" stroke="#4a4a4a" stroke-width="0.85"/>
<line x1="418.00" y1="71.97" x2="423.50" y2="71.97" stroke="#4a4a4a" stroke-width="0.85"/>
<line x1="420.30" y1="66.63" x2="423.50" y2="66.63" stroke="#4a4a4a" stroke-width="0.85"/>
<line x1="420.30" y1="61.28" x2="423.50" y2="61.28" stroke="#4a4a4a" stroke-width="0.85"/>
<line x1="420.30" y1="55.94" x2="423.50" y2="55.94" stroke="#4a4a4a" stroke-width="0.85"/>
<line x1="420.30" y1="50.59" x2="423.50" y2="50.59" stroke="#4a4a4a" stroke-width="0.85"/>
<line x1="416.20" y1="45.25" x2="423.50" y2="45.25" stroke="#4a4a4a" stroke-width="0.85"/>
<line x1="420.30" y1="39.91" x2="423.50" y2="39.91" stroke="#4a4a4a" stroke-width="0.85"/>
<line x1="420.30" y1="34.56" x2="423.50" y2="34.56" stroke="#4a4a4a" stroke-width="0.85"/>
<line x1="420.30" y1="29.22" x2="423.50" y2="29.22" stroke="#4a4a4a" stroke-width="0.85"/>
<line x1="420.30" y1="23.87" x2="423.50" y2="23.87" stroke="#4a4a4a" stroke-width="0.85"/>
<line x1="418.00" y1="18.53" x2="423.50" y2="18.53" stroke="#4a4a4a" stroke-width="0.85"/>
<line x1="420.30" y1="13.18" x2="423.50" y2="13.18" stroke="#4a4a4a" stroke-width="0.85"/>
<line x1="420.30" y1="7.84" x2="423.50" y2="7.84" stroke="#4a4a4a" stroke-width="0.85"/>
<text transform="translate(402.90,209.50) scale(1,1)" text-anchor="middle" font-size="7.7" class="tl">0</text>
<text transform="translate(402.90,156.05) scale(1,1)" text-anchor="middle" font-size="7.7" class="tl">1000</text>
<text transform="translate(402.90,102.60) scale(1,1)" text-anchor="middle" font-size="7.7" class="tl">2000</text>
<text transform="translate(402.90,49.15) scale(1,1)" text-anchor="middle" font-size="7.7" class="tl">3000</text>
<text transform="translate(423.50,225.30) scale(1,1)" text-anchor="middle" font-size="7.7" class="tl">5</text>
<text transform="translate(447.43,225.30) scale(1,1)" text-anchor="middle" font-size="7.7" class="tl">10</text>
<text transform="translate(495.27,225.30) scale(1,1)" text-anchor="middle" font-size="7.7" class="tl">20</text>
<text transform="translate(543.12,225.30) scale(1,1)" text-anchor="middle" font-size="7.7" class="tl">30</text>
<text transform="translate(590.98,225.30) scale(1,1)" text-anchor="middle" font-size="7.7" class="tl">40</text>
<text transform="translate(638.83,225.30) scale(1,1)" text-anchor="middle" font-size="7.7" class="tl">50</text>
<text transform="translate(686.67,225.30) scale(1,1)" text-anchor="middle" font-size="7.7" class="tl">60</text>
<text transform="translate(734.53,225.30) scale(1,1)" text-anchor="middle" font-size="7.7" class="tl">70</text>
<line x1="429.40" y1="265.60" x2="429.40" y2="452.70" stroke="#333" stroke-width="1"/>
<line x1="422.20" y1="447.30" x2="733.00" y2="447.30" stroke="#333" stroke-width="1"/>
<line x1="429.40" y1="447.30" x2="429.40" y2="452.70" stroke="#4a4a4a" stroke-width="0.85"/>
<line x1="434.06" y1="447.30" x2="434.06" y2="450.40" stroke="#4a4a4a" stroke-width="0.85"/>
<line x1="438.72" y1="447.30" x2="438.72" y2="450.40" stroke="#4a4a4a" stroke-width="0.85"/>
<line x1="443.38" y1="447.30" x2="443.38" y2="450.40" stroke="#4a4a4a" stroke-width="0.85"/>
<line x1="448.04" y1="447.30" x2="448.04" y2="450.40" stroke="#4a4a4a" stroke-width="0.85"/>
<line x1="452.70" y1="447.30" x2="452.70" y2="454.30" stroke="#4a4a4a" stroke-width="0.85"/>
<line x1="457.36" y1="447.30" x2="457.36" y2="450.40" stroke="#4a4a4a" stroke-width="0.85"/>
<line x1="462.02" y1="447.30" x2="462.02" y2="450.40" stroke="#4a4a4a" stroke-width="0.85"/>
<line x1="466.68" y1="447.30" x2="466.68" y2="450.40" stroke="#4a4a4a" stroke-width="0.85"/>
<line x1="471.34" y1="447.30" x2="471.34" y2="450.40" stroke="#4a4a4a" stroke-width="0.85"/>
<line x1="476.00" y1="447.30" x2="476.00" y2="452.70" stroke="#4a4a4a" stroke-width="0.85"/>
<line x1="480.66" y1="447.30" x2="480.66" y2="450.40" stroke="#4a4a4a" stroke-width="0.85"/>
<line x1="485.32" y1="447.30" x2="485.32" y2="450.40" stroke="#4a4a4a" stroke-width="0.85"/>
<line x1="489.98" y1="447.30" x2="489.98" y2="450.40" stroke="#4a4a4a" stroke-width="0.85"/>
<line x1="494.64" y1="447.30" x2="494.64" y2="450.40" stroke="#4a4a4a" stroke-width="0.85"/>
<line x1="499.30" y1="447.30" x2="499.30" y2="454.30" stroke="#4a4a4a" stroke-width="0.85"/>
<line x1="503.96" y1="447.30" x2="503.96" y2="450.40" stroke="#4a4a4a" stroke-width="0.85"/>
<line x1="508.62" y1="447.30" x2="508.62" y2="450.40" stroke="#4a4a4a" stroke-width="0.85"/>
<line x1="513.28" y1="447.30" x2="513.28" y2="450.40" stroke="#4a4a4a" stroke-width="0.85"/>
<line x1="517.94" y1="447.30" x2="517.94" y2="450.40" stroke="#4a4a4a" stroke-width="0.85"/>
<line x1="522.60" y1="447.30" x2="522.60" y2="452.70" stroke="#4a4a4a" stroke-width="0.85"/>
<line x1="527.26" y1="447.30" x2="527.26" y2="450.40" stroke="#4a4a4a" stroke-width="0.85"/>
<line x1="531.92" y1="447.30" x2="531.92" y2="450.40" stroke="#4a4a4a" stroke-width="0.85"/>
<line x1="536.58" y1="447.30" x2="536.58" y2="450.40" stroke="#4a4a4a" stroke-width="0.85"/>
<line x1="541.24" y1="447.30" x2="541.24" y2="450.40" stroke="#4a4a4a" stroke-width="0.85"/>
<line x1="545.90" y1="447.30" x2="545.90" y2="454.30" stroke="#4a4a4a" stroke-width="0.85"/>
<line x1="550.56" y1="447.30" x2="550.56" y2="450.40" stroke="#4a4a4a" stroke-width="0.85"/>
<line x1="555.22" y1="447.30" x2="555.22" y2="450.40" stroke="#4a4a4a" stroke-width="0.85"/>
<line x1="559.88" y1="447.30" x2="559.88" y2="450.40" stroke="#4a4a4a" stroke-width="0.85"/>
<line x1="564.54" y1="447.30" x2="564.54" y2="450.40" stroke="#4a4a4a" stroke-width="0.85"/>
<line x1="569.20" y1="447.30" x2="569.20" y2="452.70" stroke="#4a4a4a" stroke-width="0.85"/>
<line x1="573.86" y1="447.30" x2="573.86" y2="450.40" stroke="#4a4a4a" stroke-width="0.85"/>
<line x1="578.52" y1="447.30" x2="578.52" y2="450.40" stroke="#4a4a4a" stroke-width="0.85"/>
<line x1="583.18" y1="447.30" x2="583.18" y2="450.40" stroke="#4a4a4a" stroke-width="0.85"/>
<line x1="587.84" y1="447.30" x2="587.84" y2="450.40" stroke="#4a4a4a" stroke-width="0.85"/>
<line x1="592.50" y1="447.30" x2="592.50" y2="454.30" stroke="#4a4a4a" stroke-width="0.85"/>
<line x1="597.16" y1="447.30" x2="597.16" y2="450.40" stroke="#4a4a4a" stroke-width="0.85"/>
<line x1="601.82" y1="447.30" x2="601.82" y2="450.40" stroke="#4a4a4a" stroke-width="0.85"/>
<line x1="606.48" y1="447.30" x2="606.48" y2="450.40" stroke="#4a4a4a" stroke-width="0.85"/>
<line x1="611.14" y1="447.30" x2="611.14" y2="450.40" stroke="#4a4a4a" stroke-width="0.85"/>
<line x1="615.80" y1="447.30" x2="615.80" y2="452.70" stroke="#4a4a4a" stroke-width="0.85"/>
<line x1="620.46" y1="447.30" x2="620.46" y2="450.40" stroke="#4a4a4a" stroke-width="0.85"/>
<line x1="625.12" y1="447.30" x2="625.12" y2="450.40" stroke="#4a4a4a" stroke-width="0.85"/>
<line x1="629.78" y1="447.30" x2="629.78" y2="450.40" stroke="#4a4a4a" stroke-width="0.85"/>
<line x1="634.44" y1="447.30" x2="634.44" y2="450.40" stroke="#4a4a4a" stroke-width="0.85"/>
<line x1="639.10" y1="447.30" x2="639.10" y2="454.30" stroke="#4a4a4a" stroke-width="0.85"/>
<line x1="643.76" y1="447.30" x2="643.76" y2="450.40" stroke="#4a4a4a" stroke-width="0.85"/>
<line x1="648.42" y1="447.30" x2="648.42" y2="450.40" stroke="#4a4a4a" stroke-width="0.85"/>
<line x1="653.08" y1="447.30" x2="653.08" y2="450.40" stroke="#4a4a4a" stroke-width="0.85"/>
<line x1="657.74" y1="447.30" x2="657.74" y2="450.40" stroke="#4a4a4a" stroke-width="0.85"/>
<line x1="662.40" y1="447.30" x2="662.40" y2="452.70" stroke="#4a4a4a" stroke-width="0.85"/>
<line x1="667.06" y1="447.30" x2="667.06" y2="450.40" stroke="#4a4a4a" stroke-width="0.85"/>
<line x1="671.72" y1="447.30" x2="671.72" y2="450.40" stroke="#4a4a4a" stroke-width="0.85"/>
<line x1="676.38" y1="447.30" x2="676.38" y2="450.40" stroke="#4a4a4a" stroke-width="0.85"/>
<line x1="681.04" y1="447.30" x2="681.04" y2="450.40" stroke="#4a4a4a" stroke-width="0.85"/>
<line x1="685.70" y1="447.30" x2="685.70" y2="454.30" stroke="#4a4a4a" stroke-width="0.85"/>
<line x1="690.36" y1="447.30" x2="690.36" y2="450.40" stroke="#4a4a4a" stroke-width="0.85"/>
<line x1="695.02" y1="447.30" x2="695.02" y2="450.40" stroke="#4a4a4a" stroke-width="0.85"/>
<line x1="699.68" y1="447.30" x2="699.68" y2="450.40" stroke="#4a4a4a" stroke-width="0.85"/>
<line x1="704.34" y1="447.30" x2="704.34" y2="450.40" stroke="#4a4a4a" stroke-width="0.85"/>
<line x1="709.00" y1="447.30" x2="709.00" y2="452.70" stroke="#4a4a4a" stroke-width="0.85"/>
<line x1="713.66" y1="447.30" x2="713.66" y2="450.40" stroke="#4a4a4a" stroke-width="0.85"/>
<line x1="718.32" y1="447.30" x2="718.32" y2="450.40" stroke="#4a4a4a" stroke-width="0.85"/>
<line x1="722.98" y1="447.30" x2="722.98" y2="450.40" stroke="#4a4a4a" stroke-width="0.85"/>
<line x1="727.64" y1="447.30" x2="727.64" y2="450.40" stroke="#4a4a4a" stroke-width="0.85"/>
<line x1="732.30" y1="447.30" x2="732.30" y2="454.30" stroke="#4a4a4a" stroke-width="0.85"/>
<line x1="426.20" y1="443.76" x2="429.40" y2="443.76" stroke="#4a4a4a" stroke-width="0.85"/>
<line x1="426.20" y1="440.23" x2="429.40" y2="440.23" stroke="#4a4a4a" stroke-width="0.85"/>
<line x1="426.20" y1="436.69" x2="429.40" y2="436.69" stroke="#4a4a4a" stroke-width="0.85"/>
<line x1="426.20" y1="433.16" x2="429.40" y2="433.16" stroke="#4a4a4a" stroke-width="0.85"/>
<line x1="424.20" y1="429.62" x2="429.40" y2="429.62" stroke="#4a4a4a" stroke-width="0.85"/>
<line x1="426.20" y1="426.08" x2="429.40" y2="426.08" stroke="#4a4a4a" stroke-width="0.85"/>
<line x1="426.20" y1="422.55" x2="429.40" y2="422.55" stroke="#4a4a4a" stroke-width="0.85"/>
<line x1="426.20" y1="419.01" x2="429.40" y2="419.01" stroke="#4a4a4a" stroke-width="0.85"/>
<line x1="426.20" y1="415.48" x2="429.40" y2="415.48" stroke="#4a4a4a" stroke-width="0.85"/>
<line x1="422.20" y1="411.94" x2="429.40" y2="411.94" stroke="#4a4a4a" stroke-width="0.85"/>
<line x1="426.20" y1="408.40" x2="429.40" y2="408.40" stroke="#4a4a4a" stroke-width="0.85"/>
<line x1="426.20" y1="404.87" x2="429.40" y2="404.87" stroke="#4a4a4a" stroke-width="0.85"/>
<line x1="426.20" y1="401.33" x2="429.40" y2="401.33" stroke="#4a4a4a" stroke-width="0.85"/>
<line x1="426.20" y1="397.80" x2="429.40" y2="397.80" stroke="#4a4a4a" stroke-width="0.85"/>
<line x1="424.20" y1="394.26" x2="429.40" y2="394.26" stroke="#4a4a4a" stroke-width="0.85"/>
<line x1="426.20" y1="390.72" x2="429.40" y2="390.72" stroke="#4a4a4a" stroke-width="0.85"/>
<line x1="426.20" y1="387.19" x2="429.40" y2="387.19" stroke="#4a4a4a" stroke-width="0.85"/>
<line x1="426.20" y1="383.65" x2="429.40" y2="383.65" stroke="#4a4a4a" stroke-width="0.85"/>
<line x1="426.20" y1="380.12" x2="429.40" y2="380.12" stroke="#4a4a4a" stroke-width="0.85"/>
<line x1="422.20" y1="376.58" x2="429.40" y2="376.58" stroke="#4a4a4a" stroke-width="0.85"/>
<line x1="426.20" y1="373.04" x2="429.40" y2="373.04" stroke="#4a4a4a" stroke-width="0.85"/>
<line x1="426.20" y1="369.51" x2="429.40" y2="369.51" stroke="#4a4a4a" stroke-width="0.85"/>
<line x1="426.20" y1="365.97" x2="429.40" y2="365.97" stroke="#4a4a4a" stroke-width="0.85"/>
<line x1="426.20" y1="362.44" x2="429.40" y2="362.44" stroke="#4a4a4a" stroke-width="0.85"/>
<line x1="424.20" y1="358.90" x2="429.40" y2="358.90" stroke="#4a4a4a" stroke-width="0.85"/>
<line x1="426.20" y1="355.36" x2="429.40" y2="355.36" stroke="#4a4a4a" stroke-width="0.85"/>
<line x1="426.20" y1="351.83" x2="429.40" y2="351.83" stroke="#4a4a4a" stroke-width="0.85"/>
<line x1="426.20" y1="348.29" x2="429.40" y2="348.29" stroke="#4a4a4a" stroke-width="0.85"/>
<line x1="426.20" y1="344.76" x2="429.40" y2="344.76" stroke="#4a4a4a" stroke-width="0.85"/>
<line x1="422.20" y1="341.22" x2="429.40" y2="341.22" stroke="#4a4a4a" stroke-width="0.85"/>
<line x1="426.20" y1="337.68" x2="429.40" y2="337.68" stroke="#4a4a4a" stroke-width="0.85"/>
<line x1="426.20" y1="334.15" x2="429.40" y2="334.15" stroke="#4a4a4a" stroke-width="0.85"/>
<line x1="426.20" y1="330.61" x2="429.40" y2="330.61" stroke="#4a4a4a" stroke-width="0.85"/>
<line x1="426.20" y1="327.08" x2="429.40" y2="327.08" stroke="#4a4a4a" stroke-width="0.85"/>
<line x1="424.20" y1="323.54" x2="429.40" y2="323.54" stroke="#4a4a4a" stroke-width="0.85"/>
<line x1="426.20" y1="320.00" x2="429.40" y2="320.00" stroke="#4a4a4a" stroke-width="0.85"/>
<line x1="426.20" y1="316.47" x2="429.40" y2="316.47" stroke="#4a4a4a" stroke-width="0.85"/>
<line x1="426.20" y1="312.93" x2="429.40" y2="312.93" stroke="#4a4a4a" stroke-width="0.85"/>
<line x1="426.20" y1="309.40" x2="429.40" y2="309.40" stroke="#4a4a4a" stroke-width="0.85"/>
<line x1="422.20" y1="305.86" x2="429.40" y2="305.86" stroke="#4a4a4a" stroke-width="0.85"/>
<line x1="426.20" y1="302.32" x2="429.40" y2="302.32" stroke="#4a4a4a" stroke-width="0.85"/>
<line x1="426.20" y1="298.79" x2="429.40" y2="298.79" stroke="#4a4a4a" stroke-width="0.85"/>
<line x1="426.20" y1="295.25" x2="429.40" y2="295.25" stroke="#4a4a4a" stroke-width="0.85"/>
<line x1="426.20" y1="291.72" x2="429.40" y2="291.72" stroke="#4a4a4a" stroke-width="0.85"/>
<line x1="424.20" y1="288.18" x2="429.40" y2="288.18" stroke="#4a4a4a" stroke-width="0.85"/>
<line x1="426.20" y1="284.64" x2="429.40" y2="284.64" stroke="#4a4a4a" stroke-width="0.85"/>
<line x1="426.20" y1="281.11" x2="429.40" y2="281.11" stroke="#4a4a4a" stroke-width="0.85"/>
<line x1="426.20" y1="277.57" x2="429.40" y2="277.57" stroke="#4a4a4a" stroke-width="0.85"/>
<line x1="426.20" y1="274.04" x2="429.40" y2="274.04" stroke="#4a4a4a" stroke-width="0.85"/>
<line x1="422.20" y1="270.50" x2="429.40" y2="270.50" stroke="#4a4a4a" stroke-width="0.85"/>
<line x1="426.20" y1="266.96" x2="429.40" y2="266.96" stroke="#4a4a4a" stroke-width="0.85"/>
<text transform="translate(409.10,451.70) scale(1,1)" text-anchor="middle" font-size="7.3" class="tl">0</text>
<text transform="translate(409.10,416.34) scale(1,1)" text-anchor="middle" font-size="7.3" class="tl">1000</text>
<text transform="translate(409.10,380.98) scale(1,1)" text-anchor="middle" font-size="7.3" class="tl">2000</text>
<text transform="translate(409.10,345.62) scale(1,1)" text-anchor="middle" font-size="7.3" class="tl">3000</text>
<text transform="translate(409.10,310.26) scale(1,1)" text-anchor="middle" font-size="7.3" class="tl">4000</text>
<text transform="translate(409.10,274.90) scale(1,1)" text-anchor="middle" font-size="7.3" class="tl">5000</text>
<text transform="translate(429.40,466.10) scale(1,1)" text-anchor="middle" font-size="7.3" class="tl">5</text>
<text transform="translate(452.70,466.10) scale(1,1)" text-anchor="middle" font-size="7.3" class="tl">10</text>
<text transform="translate(499.30,466.10) scale(1,1)" text-anchor="middle" font-size="7.3" class="tl">20</text>
<text transform="translate(545.90,466.10) scale(1,1)" text-anchor="middle" font-size="7.3" class="tl">30</text>
<text transform="translate(592.50,466.10) scale(1,1)" text-anchor="middle" font-size="7.3" class="tl">40</text>
<text transform="translate(639.10,466.10) scale(1,1)" text-anchor="middle" font-size="7.3" class="tl">50</text>
<text transform="translate(685.70,466.10) scale(1,1)" text-anchor="middle" font-size="7.3" class="tl">60</text>
<text transform="translate(732.30,466.10) scale(1,1)" text-anchor="middle" font-size="7.3" class="tl">70</text>
<polyline class="cv" points="53.75,157.95 54.50,157.78 55.25,156.73 56.00,156.05 56.75,155.06 57.50,154.87 58.38,154.93 59.26,153.76 60.14,153.40 61.02,152.16 61.90,151.50 62.60,150.49 63.30,148.40 64.00,149.16 64.50,147.24 65.20,148.73 66.25,146.98 67.00,145.55 67.75,144.75 68.50,143.66 69.25,142.84 70.00,141.22 70.83,140.79 71.67,139.11 72.50,138.98 73.33,138.21 74.17,136.59 75.00,137.55 75.75,135.05 76.50,133.92 77.25,130.87 78.00,129.14 78.75,127.82 79.62,126.27 80.49,125.15 81.36,123.09 82.23,120.76 83.10,118.57 83.93,116.22 84.77,115.07 85.60,110.51 86.43,109.39 87.27,107.49 88.10,103.58 88.89,104.36 89.67,104.88 90.46,100.99 91.25,101.94 92.08,102.65 92.92,102.46 93.75,104.23 94.54,104.94 95.33,104.86 96.11,108.28 96.90,109.37 97.68,111.04 98.45,112.90 99.22,113.32 100.00,114.51 100.75,114.11 101.50,116.69 102.25,116.47 103.00,117.48 103.75,117.65 104.54,119.00 105.33,120.47 106.11,123.11 106.90,121.38 107.60,122.71 108.30,124.97 109.00,126.80 110.10,122.00 110.60,90.00 110.95,62.00 111.25,2.50 111.60,62.00 112.00,90.00 112.50,126.48 113.45,126.76 114.40,128.60 115.10,130.00 115.60,123.10 116.10,131.28 116.90,133.18 117.68,134.46 118.45,137.61 119.22,139.25 120.00,140.11 120.60,140.18 121.20,140.32 121.90,139.92 122.50,142.44 123.12,144.81 123.75,147.27 124.50,146.86 125.25,149.74 126.00,150.52 126.75,151.24 127.50,150.65 128.25,152.24 129.00,153.90 129.75,153.01 130.50,154.75 131.25,156.21 131.93,154.76 132.60,155.50 133.10,153.51 133.70,156.33 134.40,156.81 135.60,155.50 136.10,150.00 136.70,121.90 137.30,150.00 137.80,156.19 138.40,157.63 139.18,157.63 139.95,158.54 140.72,157.81 141.50,158.26 142.28,159.10 143.06,158.52 143.84,158.00 144.62,159.04 145.41,159.34 146.19,158.25 146.97,157.71 147.75,158.42 148.50,157.91 149.25,157.33 150.00,157.82 150.75,155.89 151.50,156.75 152.23,154.99 152.97,155.03 153.70,155.63 154.43,155.68 155.17,155.27 155.90,154.71 157.10,151.00 157.75,136.60 158.40,150.00 158.75,152.34 159.50,153.47 160.25,154.85 161.08,153.42 161.92,152.74 162.75,151.96 163.68,151.93 164.60,152.73 165.32,153.35 166.03,154.99 166.75,154.70 167.57,151.98 168.40,150.00 168.90,146.00 169.40,133.75 170.00,148.00 170.50,153.27 171.38,154.27 172.25,155.61 173.12,155.62 174.00,156.83 174.83,158.04 175.67,155.82 176.50,157.02 177.33,158.17 178.17,158.62 179.00,158.89 180.20,158.00 180.90,151.60 181.60,156.75 182.10,158.28 182.89,158.69 183.68,158.85 184.46,161.13 185.25,160.60 186.04,159.93 186.82,160.02 187.61,159.79 188.40,159.71 189.32,160.15 190.25,163.25 191.00,161.30 191.75,158.00 192.30,152.00 192.75,147.50 193.50,154.10 194.25,147.25 194.70,153.00 195.25,162.28 196.18,164.29 197.10,166.22 197.89,166.08 198.68,166.31 199.46,164.62 200.25,165.20 201.04,165.11 201.82,165.50 202.61,165.64 203.40,163.64 204.30,164.00 204.90,159.50 205.50,164.56 206.25,165.03 207.00,166.09 207.75,165.01 208.50,165.84 209.25,166.34 210.00,165.68 210.75,165.85 211.50,166.15 212.25,165.20 213.00,164.45 213.60,162.09 214.30,165.04 215.25,165.25 216.08,166.97 216.92,165.23 217.75,166.45 218.58,166.07 219.42,166.46 220.25,166.94 221.00,166.71 221.75,166.91 222.50,165.85 223.25,165.86 224.00,166.90 224.75,166.13 225.50,166.10 226.33,166.31 227.17,168.04 228.00,168.20 228.83,168.96 229.67,168.25 230.50,169.10 231.28,168.82 232.06,169.92 232.84,170.53 233.62,169.65 234.41,170.98 235.19,170.96 235.97,170.68 236.75,170.14 237.53,171.69 238.31,171.11 239.09,170.96 239.88,171.47 240.66,171.55 241.44,172.09 242.22,171.09 243.00,172.09 243.75,172.56 244.50,172.87 245.25,172.51 246.00,172.61 246.75,173.66 247.55,173.37 248.34,173.45 249.14,174.06 249.93,173.45 250.73,172.71 251.52,173.56 252.32,173.05 253.11,174.19 253.91,174.07 254.70,173.78 255.50,174.10 256.33,174.46 257.17,174.20 258.00,174.72 258.83,174.21 259.67,174.68 260.50,174.89 261.33,174.96 262.17,174.10 263.00,174.74 263.83,173.70 264.67,174.04 265.50,173.73 266.12,174.13 266.75,172.39 267.58,173.59 268.42,174.22 269.25,174.99 270.03,174.93 270.81,175.40 271.59,176.14 272.38,175.64 273.16,175.98 273.94,176.31 274.72,176.02 275.50,175.79 276.25,175.88 277.00,176.31 277.75,175.13 278.50,175.35 279.25,175.78 280.03,175.77 280.81,175.55 281.59,175.93 282.38,175.76 283.16,175.34 283.94,175.27 284.72,175.69 285.50,176.34 286.30,175.04 287.10,174.15 287.82,174.91 288.53,175.33 289.25,176.56 290.08,176.23 290.92,176.84 291.75,175.92 292.58,176.93 293.42,176.64 294.25,176.24 295.08,177.24 295.92,176.94 296.75,176.30 297.58,176.83 298.42,177.30 299.25,177.09 300.07,177.54 300.89,177.55 301.71,177.54 302.53,177.44 303.35,177.81 304.17,177.59 304.98,177.54 305.80,176.68 306.62,177.73 307.44,177.90 308.26,177.36 309.08,177.32 309.90,178.17 310.68,176.93 311.45,177.74 312.23,178.45 313.01,177.34 313.78,177.93 314.56,178.37 315.34,177.73 316.12,178.00 316.89,178.15 317.67,177.58 318.45,177.89 319.22,178.06 320.00,178.28 320.83,178.06 321.67,178.07 322.50,177.86 323.33,178.15 324.17,178.63 325.00,178.43 325.83,178.19 326.67,178.26 327.50,179.47 328.33,179.04 329.17,178.94 330.00,177.96 330.75,179.06 331.50,179.08 332.25,179.53 333.00,179.19 333.75,179.09 334.50,179.34 335.25,178.62 336.00,179.63 336.83,179.04 337.67,178.34 338.50,178.64 339.20,179.06 339.90,178.28 340.60,179.00"/>
<polyline class="cv" points="54.75,385.13 55.47,384.57 56.18,383.26 56.90,381.62 57.67,379.02 58.45,378.40 59.23,376.03 60.00,372.26 60.75,370.33 61.50,370.26 62.25,368.18 63.00,366.52 63.75,364.32 64.50,361.27 65.25,360.19 66.00,357.24 66.75,355.75 67.50,354.36 68.28,352.42 69.05,349.19 69.82,347.26 70.60,345.32 71.32,344.63 72.03,344.18 72.75,343.25 73.46,340.85 74.17,339.60 74.89,337.06 75.60,334.42 76.39,330.96 77.17,327.80 77.96,324.12 78.75,320.60 79.60,310.21 80.42,306.67 81.25,303.25 82.25,293.37 83.00,289.08 83.75,284.22 84.58,281.97 85.40,278.25 86.50,271.24 87.50,276.70 88.25,273.77 89.00,271.71 89.62,270.52 90.25,270.10 90.88,273.42 91.50,275.10 92.50,281.27 93.50,279.50 94.12,284.20 94.75,288.14 95.47,290.50 96.18,293.17 96.90,297.30 97.83,301.13 98.75,305.50 99.67,308.04 100.60,311.11 101.43,313.60 102.27,315.87 103.10,319.15 104.05,321.57 105.00,323.89 105.78,327.09 106.55,330.35 107.32,332.90 108.10,335.72 108.86,336.49 109.62,339.40 110.38,342.26 111.14,343.79 111.90,347.00 112.68,349.79 113.45,353.14 114.22,355.48 115.00,359.65 115.75,361.87 116.50,363.10 117.25,365.56 118.00,368.65 118.75,369.76 119.62,372.99 120.49,375.45 121.36,377.14 122.23,378.70 123.10,382.03 123.86,383.02 124.62,384.43 125.38,385.06 126.14,385.40 126.90,386.85 127.77,387.38 128.64,387.89 129.51,388.54 130.38,389.08 131.25,390.48 132.08,389.68 132.92,390.39 133.75,391.25 134.58,390.77 135.42,391.78 136.25,391.60 137.05,391.40 137.85,391.66 138.65,391.04 139.45,389.98 140.25,389.24 141.03,388.11 141.81,389.51 142.59,388.58 143.38,388.59 144.16,386.81 144.94,386.91 145.72,385.74 146.50,386.80 147.28,386.40 148.06,384.35 148.84,384.71 149.62,384.69 150.41,382.85 151.19,382.35 151.97,382.00 152.75,381.81 153.58,381.35 154.42,382.27 155.25,382.42 156.08,383.41 156.92,384.17 157.75,385.30 158.58,385.63 159.42,384.33 160.25,385.30 161.08,385.32 161.92,385.73 162.75,386.84 163.62,387.77 164.49,388.98 165.36,388.61 166.23,389.51 167.10,391.23 167.83,391.84 168.57,392.48 169.30,393.38 170.03,393.62 170.77,395.37 171.50,395.85 172.33,396.37 173.17,396.80 174.00,397.98 174.83,398.03 175.67,399.08 176.50,400.63 177.33,400.33 178.17,402.01 179.00,402.60 179.83,402.23 180.67,403.59 181.50,404.18 182.28,405.11 183.06,405.60 183.84,405.54 184.62,405.35 185.41,406.24 186.19,406.68 186.97,407.63 187.75,407.71 188.58,406.79 189.42,406.18 190.25,406.61 191.08,406.15 191.92,405.68 192.75,406.17 193.53,405.99 194.31,406.49 195.09,406.86 195.88,406.29 196.66,407.56 197.44,406.51 198.22,407.59 199.00,406.99 199.83,407.72 200.67,406.08 201.50,406.49 202.33,407.23 203.17,407.52 204.00,408.03 204.83,407.40 205.67,408.11 206.50,407.79 207.33,408.83 208.17,409.43 209.00,409.89 209.78,410.81 210.56,410.21 211.34,412.20 212.12,411.20 212.91,412.51 213.69,413.71 214.47,413.14 215.25,413.76 216.03,414.97 216.81,414.70 217.59,414.64 218.38,415.79 219.16,416.46 219.94,417.00 220.72,416.55 221.50,418.40 222.23,418.72 222.97,418.14 223.70,418.61 224.43,418.51 225.17,419.93 225.90,418.98 226.69,420.12 227.48,419.75 228.27,419.94 229.06,421.08 229.84,421.76 230.63,421.29 231.42,421.23 232.21,422.40 233.00,422.22 233.83,422.65 234.67,423.56 235.50,423.57 236.33,422.88 237.17,424.30 238.00,423.63 238.83,424.29 239.67,423.73 240.50,424.29 241.33,423.64 242.17,425.67 243.00,425.73 243.78,424.47 244.56,424.43 245.34,424.49 246.12,426.10 246.91,425.35 247.69,425.68 248.47,425.67 249.25,425.89 250.03,425.50 250.81,426.20 251.59,425.56 252.38,426.39 253.16,426.70 253.94,426.90 254.72,426.66 255.50,426.43 256.28,427.08 257.06,426.85 257.84,428.00 258.62,427.69 259.41,427.34 260.19,427.26 260.97,427.24 261.75,427.23 262.53,427.62 263.31,428.05 264.09,428.26 264.88,428.39 265.66,429.10 266.44,427.95 267.22,428.41 268.00,429.40 268.78,427.73 269.56,428.51 270.34,428.98 271.12,429.10 271.91,429.36 272.69,429.17 273.47,429.60 274.25,429.58 275.03,430.05 275.81,428.91 276.59,429.52 277.38,430.07 278.16,429.72 278.94,429.84 279.72,430.77 280.50,430.29 281.28,430.95 282.06,431.06 282.84,430.91 283.62,431.06 284.41,430.83 285.19,430.28 285.97,430.98 286.75,431.26 287.53,430.86 288.31,431.12 289.09,431.57 289.88,430.87 290.66,431.63 291.44,432.25 292.22,431.19 293.00,431.57 293.78,431.49 294.56,432.33 295.34,431.83 296.12,432.16 296.91,431.50 297.69,431.87 298.47,431.93 299.25,431.20 300.03,432.71 300.81,432.53 301.59,431.40 302.38,432.58 303.16,432.25 303.94,432.58 304.72,432.60 305.50,431.83 306.30,432.44 307.11,433.24 307.91,432.35 308.72,432.19 309.52,432.08 310.33,432.18 311.13,432.90 311.94,433.54 312.74,433.02 313.55,432.97 314.35,433.80 315.15,432.71 315.96,432.68 316.76,433.24 317.57,433.29 318.37,432.64 319.18,432.61 319.98,433.28 320.79,433.30 321.59,432.66 322.40,433.18 323.20,433.06 324.01,433.56 324.83,433.36 325.64,433.43 326.46,433.38 327.27,434.04 328.09,434.24 328.90,433.54 329.71,434.12 330.53,433.49 331.34,433.90 332.16,434.25 332.97,434.63 333.79,433.88 334.60,434.07 335.41,434.24 336.23,433.58 337.04,434.28 337.86,434.04 338.67,434.54 339.49,433.97 340.30,433.67 341.09,434.42 341.88,434.43 342.68,433.99 343.47,434.51 344.26,433.92 345.05,433.69 345.85,434.06 346.64,433.09 347.43,433.38 348.22,433.57 349.02,433.85 349.81,433.32 350.60,433.43 351.44,433.19 352.29,433.77 353.13,434.53 353.97,433.69 354.81,435.06 355.66,434.06 356.50,434.50"/>
<polyline class="cv" points="423.75,162.01 424.62,161.10 425.49,160.60 426.36,158.27 427.23,156.75 428.10,157.37 428.98,156.48 429.86,155.38 430.74,155.63 431.62,153.13 432.50,152.16 433.45,150.72 434.40,148.25 434.80,144.00 435.25,135.10 435.80,143.00 436.25,146.00 437.08,146.45 437.92,144.08 438.75,144.25 439.68,138.99 440.60,138.83 441.48,137.11 442.36,137.17 443.24,137.20 444.12,134.77 445.00,133.71 445.95,129.77 446.90,125.75 447.67,124.66 448.45,124.40 449.23,122.68 450.00,121.45 450.92,118.96 451.83,117.55 452.75,114.50 453.75,107.67 454.58,103.79 455.42,101.17 456.25,97.11 457.18,91.82 458.10,89.86 459.05,85.19 460.00,80.08 460.95,79.25 461.90,75.74 462.73,73.42 463.57,76.13 464.40,74.43 465.32,75.31 466.25,74.95 467.18,76.78 468.10,77.59 468.75,79.45 469.40,77.90 470.00,65.75 470.60,79.78 471.55,84.15 472.50,89.43 473.33,90.64 474.17,92.66 475.00,93.16 475.95,97.52 476.90,99.71 477.67,102.64 478.45,105.01 479.23,106.99 480.00,106.94 480.77,108.71 481.55,111.71 482.33,111.66 483.10,114.11 483.89,115.91 484.68,115.58 485.46,117.58 486.25,117.02 487.04,119.18 487.82,120.36 488.61,121.93 489.40,124.14 490.20,122.00 490.60,45.00 490.90,24.00 491.30,45.00 491.70,122.00 491.90,131.30 492.73,130.87 493.57,132.81 494.40,135.46 495.27,136.22 496.14,139.21 497.01,141.14 497.88,142.43 498.75,144.86 499.58,145.77 500.42,149.59 501.25,150.42 502.00,150.32 502.75,149.77 503.50,149.50 504.00,140.00 504.50,114.75 505.00,140.00 505.50,155.50 506.23,156.73 506.95,156.72 507.67,156.90 508.40,157.93 509.17,159.79 509.95,160.10 510.73,161.56 511.50,163.30 512.25,161.72 513.00,159.79 513.75,159.50 514.60,149.25 515.40,160.47 515.90,162.03 516.60,160.66 517.30,162.83 518.00,164.13 518.80,162.25 519.60,159.50 520.25,143.25 520.70,100.00 521.00,42.00 521.25,21.25 521.50,42.00 521.90,100.00 522.20,130.75 522.75,161.14 523.58,160.59 524.42,160.14 525.25,160.81 526.17,160.43 527.10,158.26 527.93,158.58 528.77,159.45 529.60,158.62 530.48,158.80 531.36,157.89 532.24,157.62 533.12,156.12 534.00,155.21 534.83,154.67 535.67,154.05 536.50,152.83 537.45,154.51 538.40,155.75 539.40,149.50 540.25,117.60 541.25,148.25 542.40,139.50 543.08,145.12 543.75,151.23 544.67,152.75 545.58,154.32 546.50,154.02 547.33,154.66 548.17,153.81 549.00,156.91 549.83,155.73 550.67,156.56 551.50,157.32 552.33,156.50 553.17,157.91 554.00,157.93 554.83,157.18 555.67,158.76 556.50,159.61 557.27,158.43 558.05,160.62 558.83,160.90 559.60,161.67 560.50,160.00 561.10,155.10 561.80,162.25 562.50,165.22 563.30,164.88 564.10,165.98 564.90,165.78 565.70,166.89 566.50,166.56 567.33,166.31 568.17,166.68 569.00,165.35 569.83,166.06 570.67,166.59 571.50,167.83 572.33,168.77 573.17,169.57 574.00,169.72 574.83,170.19 575.67,170.31 576.50,171.44 577.33,170.76 578.17,170.89 579.00,171.82 579.83,171.62 580.67,171.65 581.50,171.71 582.30,171.82 583.10,171.90 583.75,166.59 584.38,169.26 585.00,171.29 585.90,168.00 586.50,157.50 587.20,168.23 587.75,171.34 588.50,171.08 589.25,172.30 590.00,172.11 590.80,172.08 591.59,172.65 592.39,172.91 593.18,171.91 593.98,172.47 594.77,171.81 595.57,173.41 596.36,172.00 597.16,172.85 597.95,171.93 598.75,172.66 599.50,173.65 600.25,171.59 601.00,172.94 601.75,173.70 602.50,173.70 603.33,173.38 604.17,174.72 605.00,173.66 605.83,172.78 606.67,173.96 607.50,172.66 608.33,174.41 609.17,173.92 610.00,174.62 610.83,175.50 611.67,175.31 612.50,174.94 613.33,175.29 614.17,177.12 615.00,177.39 615.83,177.16 616.67,178.41 617.50,178.72 618.28,179.05 619.06,178.02 619.84,179.15 620.62,179.95 621.41,180.13 622.19,180.46 622.97,179.27 623.75,180.67 624.53,181.12 625.31,182.31 626.09,181.13 626.88,181.71 627.66,182.18 628.44,182.84 629.22,182.60 630.00,183.57 630.78,182.86 631.56,183.37 632.34,183.13 633.12,183.49 633.91,183.23 634.69,182.94 635.47,184.11 636.25,183.87 637.05,183.64 637.84,184.06 638.64,184.49 639.43,183.81 640.23,184.27 641.02,184.65 641.82,184.75 642.61,184.53 643.41,183.94 644.20,185.38 645.00,185.13 645.83,185.11 646.67,185.10 647.50,185.42 648.33,185.25 649.17,185.12 650.00,185.34 650.83,185.50 651.67,185.60 652.50,185.49 653.33,186.29 654.17,185.65 655.00,186.50 655.78,185.95 656.56,186.55 657.34,187.01 658.12,186.65 658.91,186.38 659.69,186.76 660.47,186.87 661.25,186.25 662.08,186.87 662.92,187.36 663.75,187.33 664.58,187.73 665.42,188.17 666.25,188.38 667.17,186.89 668.10,185.00 668.90,171.00 669.60,176.00 670.40,182.74 671.00,184.59 671.60,186.89 672.48,187.17 673.36,187.53 674.24,187.94 675.12,187.76 676.00,188.63 676.78,188.82 677.56,188.56 678.34,188.98 679.12,189.24 679.91,189.08 680.69,189.95 681.47,188.39 682.25,189.30 683.03,188.82 683.81,189.87 684.59,190.53 685.38,188.82 686.16,189.81 686.94,190.02 687.72,189.82 688.50,190.19 689.33,189.21 690.17,190.25 691.00,190.06 691.83,189.92 692.67,189.69 693.50,190.09 694.33,189.69 695.17,189.91 696.00,189.64 696.83,189.02 697.67,189.76 698.50,189.82 699.33,190.05 700.17,189.53 701.00,189.86 701.83,190.13 702.67,190.01 703.50,190.42 704.33,190.72 705.17,189.77 706.00,189.47 706.83,190.46 707.67,190.73 708.50,190.56 709.33,190.66 710.17,190.32 711.00,190.42 711.83,191.10 712.67,190.64 713.50,190.48 714.33,190.89 715.17,192.16 716.00,192.11 716.83,191.40 717.67,191.53 718.50,191.97 719.33,191.66 720.17,192.32 721.00,191.87 721.83,191.55 722.67,192.32 723.50,191.71 724.33,191.97 725.17,191.90 726.00,191.80 726.83,191.69 727.67,191.04 728.50,190.34 729.33,189.89 730.17,189.89 731.00,189.74 731.95,191.12 732.90,192.25"/>
<polyline class="cv" points="429.66,417.65 430.45,417.94 431.24,417.69 432.03,416.24 432.82,415.16 433.61,415.29 434.53,414.89 435.46,414.54 436.38,412.42 437.31,411.65 438.24,412.14 438.97,411.15 439.71,410.97 440.45,409.77 440.97,407.44 441.71,408.78 442.81,410.31 443.60,407.15 444.39,405.50 445.18,403.93 445.97,403.44 446.76,402.15 447.63,401.00 448.51,400.39 449.39,399.83 450.26,399.32 451.14,398.82 452.02,397.37 452.81,394.32 453.59,394.59 454.38,391.41 455.17,390.79 455.96,388.19 456.88,387.66 457.79,385.35 458.71,384.47 459.62,385.35 460.54,380.90 461.41,379.03 462.29,374.54 463.17,372.81 464.04,371.65 464.92,368.95 465.80,367.37 466.62,366.46 467.45,364.76 468.28,365.56 469.11,363.61 469.99,366.60 470.86,364.86 471.74,366.46 472.57,367.03 473.40,369.11 474.22,368.89 475.05,371.55 475.87,371.90 476.68,374.50 477.50,375.29 478.31,376.23 479.10,376.27 479.89,378.45 480.68,379.03 481.47,380.86 482.26,379.99 483.09,381.82 483.92,382.83 484.74,383.69 485.57,384.68 486.31,385.47 487.05,385.64 487.78,386.12 488.94,383.45 489.46,352.53 489.83,325.48 490.15,268.00 490.52,325.48 490.94,352.53 491.46,387.00 492.46,390.00 493.46,392.92 494.20,391.18 494.72,384.51 495.25,392.89 496.09,395.59 496.91,396.88 497.72,398.33 498.54,399.46 499.35,401.38 499.98,402.09 500.61,400.61 501.35,399.14 501.98,404.12 502.64,405.30 503.30,408.14 504.09,409.03 504.88,408.72 505.66,411.93 506.45,412.47 507.24,412.44 508.03,413.51 508.82,413.84 509.61,413.96 510.40,415.13 511.19,416.13 511.90,416.51 512.61,415.81 513.13,413.35 513.76,416.33 514.50,417.94 515.76,415.81 516.29,410.50 516.92,383.35 517.55,410.50 518.08,415.86 518.71,417.95 519.52,418.43 520.34,417.95 521.15,417.42 521.97,418.21 522.79,418.84 523.61,419.00 524.43,419.57 525.26,418.16 526.08,418.71 526.90,419.07 527.72,418.63 528.54,417.40 529.33,418.68 530.12,419.05 530.91,417.83 531.70,416.26 532.49,416.06 533.26,416.18 534.03,417.26 534.80,415.93 535.57,415.40 536.35,416.00 537.12,414.80 538.38,411.47 539.06,397.55 539.75,410.50 540.11,413.81 540.90,413.35 541.69,414.57 542.57,414.34 543.45,413.84 544.32,412.45 545.30,412.54 546.27,411.57 547.02,412.97 547.78,413.76 548.53,414.53 549.40,413.03 550.27,410.50 550.79,406.64 551.32,394.80 551.95,408.57 552.47,413.68 553.39,415.10 554.32,415.43 555.24,415.94 556.16,416.94 557.03,417.47 557.91,418.05 558.79,417.65 559.66,418.13 560.54,417.85 561.42,419.84 562.68,418.23 563.41,412.05 564.15,418.09 564.68,418.03 565.51,418.47 566.33,418.67 567.16,420.04 567.99,420.66 568.82,421.56 569.65,420.37 570.48,419.66 571.30,418.60 572.28,422.47 573.25,423.64 574.04,420.03 574.83,418.23 575.41,412.43 575.88,408.09 576.67,414.46 577.46,407.84 577.93,413.40 578.51,423.06 579.48,423.54 580.46,427.39 581.28,426.17 582.11,425.81 582.94,425.36 583.77,424.32 584.60,425.20 585.43,424.42 586.25,425.37 587.08,423.95 588.03,424.03 588.66,419.68 589.29,423.57 590.08,426.30 590.87,426.51 591.66,425.15 592.45,424.98 593.24,426.14 594.03,426.13 594.81,425.24 595.60,425.38 596.39,424.78 597.18,423.92 597.81,421.01 598.55,425.13 599.55,425.71 600.42,426.56 601.30,425.72 602.18,425.89 603.05,425.68 603.93,426.29 604.81,425.92 605.60,425.70 606.39,426.87 607.17,427.22 607.96,426.93 608.75,427.17 609.54,426.66 610.33,426.20 611.21,426.98 612.08,427.17 612.96,427.24 613.84,427.38 614.71,427.89 615.59,428.95 616.41,429.25 617.23,429.20 618.06,430.26 618.88,429.95 619.70,430.35 620.52,430.85 621.34,430.21 622.16,429.96 622.99,431.18 623.81,430.65 624.63,431.56 625.45,431.22 626.27,431.57 627.09,431.54 627.92,430.43 628.74,431.67 629.53,431.41 630.32,431.70 631.11,432.15 631.89,432.95 632.68,433.31 633.52,433.43 634.36,432.46 635.19,432.96 636.03,432.34 636.87,433.30 637.70,433.64 638.54,433.19 639.38,433.65 640.21,433.72 641.05,434.10 641.89,433.47 642.76,433.50 643.64,433.56 644.52,434.55 645.39,434.33 646.27,433.90 647.15,434.06 648.02,434.05 648.90,434.12 649.78,434.00 650.65,433.98 651.53,433.66 652.41,433.93 653.06,434.04 653.72,432.84 654.60,433.33 655.47,433.90 656.35,434.68 657.17,434.93 658.00,434.72 658.82,435.18 659.64,435.34 660.46,435.14 661.28,435.28 662.10,435.36 662.93,435.49 663.71,436.01 664.50,434.69 665.29,435.27 666.08,434.98 666.87,434.81 667.69,435.15 668.51,435.59 669.34,435.29 670.16,435.28 670.98,435.18 671.80,435.43 672.62,435.87 673.45,435.48 674.29,434.48 675.13,433.69 675.88,434.44 676.64,435.03 677.39,436.58 678.27,436.38 679.14,436.22 680.02,436.86 680.90,436.18 681.77,436.72 682.65,436.79 683.53,436.04 684.40,436.09 685.28,436.36 686.16,437.03 687.03,437.21 687.91,436.41 688.77,437.20 689.63,436.74 690.49,436.75 691.36,436.72 692.22,436.81 693.08,436.33 693.94,436.62 694.80,436.56 695.66,437.16 696.53,437.71 697.39,437.94 698.25,436.94 699.11,436.50 699.93,436.97 700.75,436.83 701.56,437.84 702.38,437.41 703.20,437.01 704.02,437.60 704.83,437.51 705.65,436.83 706.47,437.23 707.28,437.36 708.10,437.48 708.92,437.56 709.74,437.44 710.61,437.68 711.49,437.49 712.37,437.46 713.24,438.30 714.12,437.99 715.00,438.08 715.87,437.50 716.75,438.01 717.63,438.39 718.50,437.79 719.38,438.61 720.26,438.20 721.04,438.51 721.83,438.40 722.62,438.57 723.41,438.94 724.20,438.50 724.99,439.17 725.78,438.51 726.57,438.52 727.44,438.68 728.32,437.76 729.20,437.63 729.93,438.29 730.67,438.64 731.41,438.52"/>
<text class="se b" x="65.3" y="19.8" font-size="15.5">a</text>
<text class="se b" x="65.6" y="263" font-size="14">b</text>
<text class="se b" x="436.3" y="19.8" font-size="15.5">c</text>
<text class="se b" x="442.2" y="277" font-size="13">d</text>
<text class="se" font-size="11.3"><tspan class="b" x="174.00" y="236.00">2θ</tspan><tspan x="188.35" y="236.00" font-size="11.30">(</tspan><tspan x="195.13" y="236.00" class="b">°</tspan><tspan x="202.25" y="236.00" font-size="11.30">)</tspan></text>
<text class="se" font-size="10.2"><tspan class="sb" x="159.80" y="475.10">2θ</tspan><tspan x="172.75" y="475.10" font-size="10.20">(</tspan><tspan x="178.87" y="475.10">°</tspan><tspan x="185.30" y="475.10" font-size="10.20">)</tspan></text>
<text class="se" font-size="12"><tspan class="b" x="562.00" y="257.30">2θ</tspan><tspan x="577.24" y="257.80" font-size="10.56" class="b">(</tspan><tspan x="584.44" y="257.30" class="b">°</tspan><tspan x="592.00" y="257.80" font-size="10.56" class="b">)</tspan></text>
<text class="se" font-size="11.1"><tspan class="b" x="556.70" y="494.30">2θ</tspan><tspan x="571.43" y="494.60" font-size="11.43" class="b">(</tspan><tspan x="578.39" y="494.30" class="b">°</tspan><tspan x="585.70" y="494.60" font-size="11.43" class="b">)</tspan></text>
<text class="se" transform="translate(8.3,132.4) rotate(-90)" font-size="10.6"><tspan class="b">Intensity</tspan><tspan font-size="8" dx="0"> (Counts)</tspan></text>
<text class="se" transform="translate(15.0,388.1) rotate(-90)" font-size="12.1"><tspan class="b">Intensity</tspan><tspan font-size="8.8" dx="1.2" class="b"> (Counts)</tspan></text>
<text class="se" transform="translate(381.8,145.3) rotate(-90)" font-size="11.4"><tspan class="b">Intensity</tspan><tspan font-size="7.8" dx="0.7" class="b"> (Counts)</tspan></text>
<text class="se" transform="translate(379.4,393.5) rotate(-90)" font-size="10.05"><tspan class="b">Intensity</tspan><tspan font-size="8" dx="0.5"> (Counts)</tspan></text>
</svg>
</body></html>
